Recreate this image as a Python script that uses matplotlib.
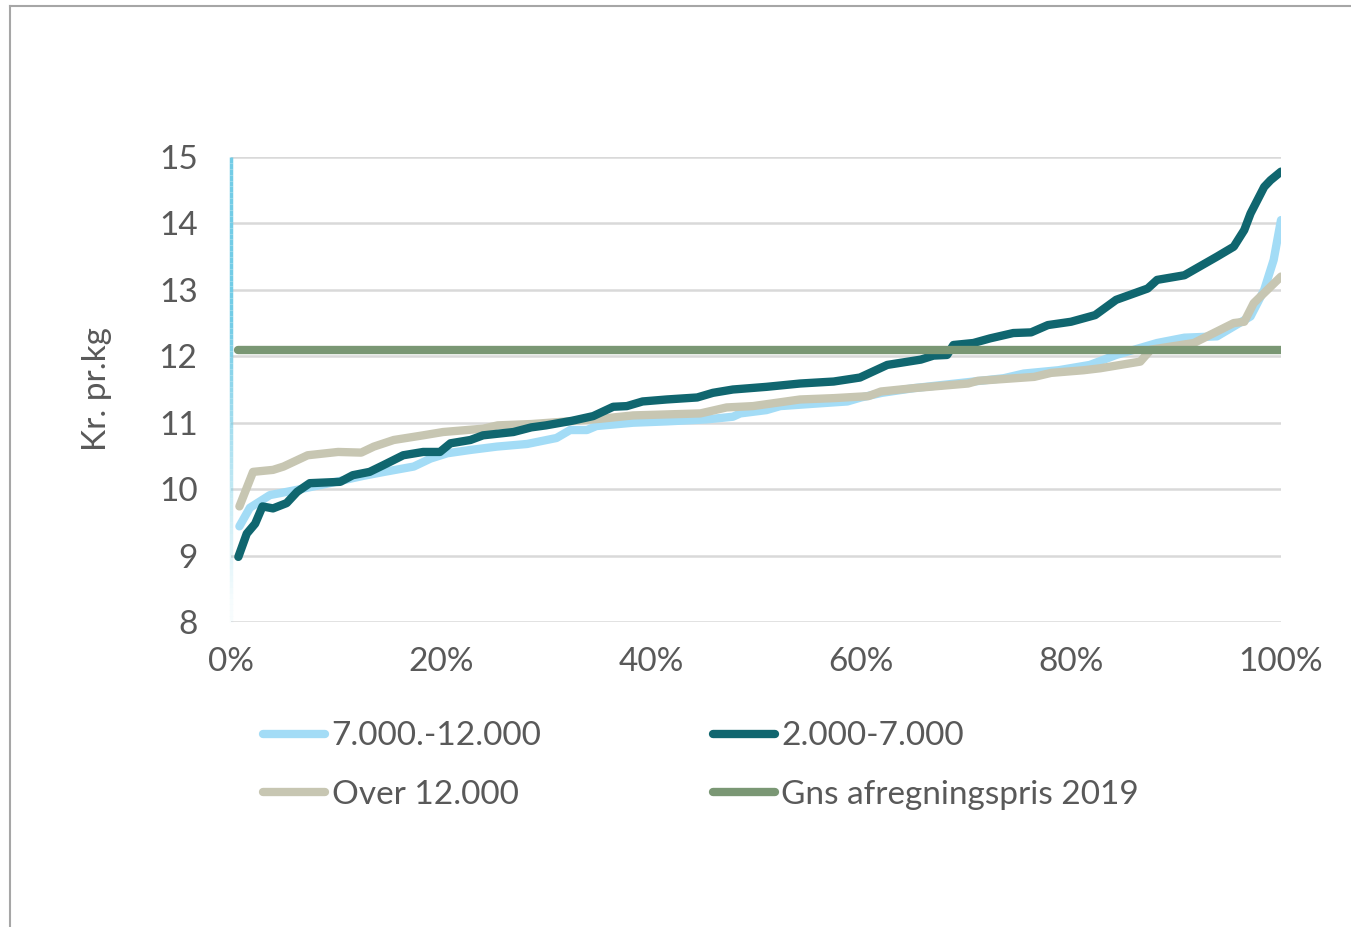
import numpy as np
import matplotlib
matplotlib.use("Agg")
import matplotlib.pyplot as plt
from matplotlib.collections import LineCollection
from matplotlib.lines import Line2D

# percentile position (%) and price (kr. pr. kg)
mid_x = [0.8, 1.8, 3.7, 6.3, 9.4, 12.6, 14.6, 17.4, 19.0, 20.6, 22.8, 25.3,
         28.2, 31.0, 32.3, 33.9, 34.8, 38.3, 41.5, 45.3, 47.8, 48.5, 51.0,
         52.3, 55.0, 58.7, 60.0, 62.0, 65.0, 69.0, 73.6, 75.5, 78.8, 81.8,
         84.3, 88.2, 90.8, 93.9, 97.1, 98.4, 99.3, 100.0]
mid_y = [9.44, 9.72, 9.91, 9.99, 10.09, 10.20, 10.26, 10.34, 10.46, 10.54,
         10.59, 10.64, 10.68, 10.77, 10.89, 10.89, 10.95, 11.00, 11.02, 11.05,
         11.09, 11.14, 11.19, 11.25, 11.28, 11.32, 11.38, 11.45, 11.52, 11.59,
         11.67, 11.74, 11.79, 11.87, 12.02, 12.20, 12.28, 12.30, 12.60, 13.00,
         13.45, 14.05]

small_x = [0.7, 1.5, 2.3, 3.0, 4.0, 5.3, 6.3, 7.5, 10.4, 11.6, 13.2, 14.5,
           16.4, 18.3, 19.9, 20.9, 22.8, 24.0, 26.9, 28.6, 30.0, 32.5, 34.5,
           36.4, 37.7, 39.2, 41.5, 44.4, 45.9, 47.8, 51.0, 54.2, 57.4, 59.9,
           62.5, 65.7, 66.9, 68.2, 68.8, 70.7, 72.3, 74.5, 76.2, 77.8, 80.0,
           82.3, 84.3, 87.3, 88.2, 90.8, 93.9, 95.5, 96.5, 97.1, 98.4, 99.0,
           100.0]
small_y = [8.98, 9.33, 9.48, 9.74, 9.71, 9.79, 9.96, 10.09, 10.11, 10.21,
           10.26, 10.36, 10.51, 10.56, 10.56, 10.69, 10.74, 10.81, 10.86,
           10.93, 10.96, 11.03, 11.10, 11.24, 11.25, 11.32, 11.35, 11.38,
           11.45, 11.50, 11.54, 11.59, 11.62, 11.68, 11.87, 11.95, 12.01,
           12.02, 12.17, 12.20, 12.27, 12.35, 12.36, 12.47, 12.52, 12.62,
           12.85, 13.02, 13.15, 13.22, 13.50, 13.65, 13.90, 14.15, 14.55,
           14.65, 14.78]

large_x = [0.8, 2.1, 4.0, 5.0, 7.3, 10.2, 12.4, 13.6, 15.5, 18.3, 20.2, 24.0,
           25.4, 28.6, 32.1, 35.2, 38.3, 44.7, 47.2, 49.7, 54.2, 57.4, 60.7,
           61.9, 65.0, 70.2, 71.1, 76.5, 78.1, 81.2, 82.8, 86.6, 87.6, 91.7,
           95.5, 96.5, 97.4, 98.7, 100.0]
large_y = [9.74, 10.26, 10.29, 10.34, 10.51, 10.56, 10.55, 10.64, 10.74,
           10.81, 10.86, 10.91, 10.96, 10.98, 11.02, 11.06, 11.11, 11.14,
           11.23, 11.25, 11.35, 11.37, 11.40, 11.47, 11.52, 11.59, 11.63,
           11.69, 11.75, 11.79, 11.82, 11.92, 12.10, 12.20, 12.50, 12.52,
           12.80, 13.00, 13.20]

avg_price = 12.1
avg_x = [0.7, 100.0]

y_ticks = [8, 9, 10, 11, 12, 13, 14, 15]
x_ticks = [0, 20, 40, 60, 80, 100]

plt.rcParams["font.family"] = ["Lato", "DejaVu Sans"]
text_color = "#595959"

fig = plt.figure(figsize=(13.51, 9.27), dpi=100)
ax = fig.add_axes([231 / 1351, 1 - 622 / 927, 1050 / 1351, 465 / 927])

lw = 6
ax.plot(mid_x, mid_y, color="#a3dcf6", lw=lw, solid_capstyle="round",
        solid_joinstyle="round", label="7.000.-12.000", zorder=3)
ax.plot(large_x, large_y, color="#c7c6b2", lw=lw, solid_capstyle="round",
        solid_joinstyle="round", label="Over 12.000", zorder=4)
ax.plot(small_x, small_y, color="#10666f", lw=lw, solid_capstyle="round",
        solid_joinstyle="round", label="2.000-7.000", zorder=5)
ax.plot(avg_x, [avg_price, avg_price], color="#7a9774", lw=lw,
        solid_capstyle="round", label="Gns afregningspris 2019", zorder=6)

ax.set_xlim(0, 100)
ax.set_ylim(8, 15)
ax.set_yticks(y_ticks)
ax.set_xticks(x_ticks)
ax.set_xticklabels([f"{t}%" for t in x_ticks])
ax.grid(axis="y", color="#d9d9d9", lw=1.8, zorder=0)
ax.tick_params(length=0, labelsize=24, colors=text_color)
ax.tick_params(axis="y", pad=24)
ax.tick_params(axis="x", pad=18)
for s in ax.spines.values():
    s.set_visible(False)

# left axis line fading towards the bottom
ys = np.linspace(8, 15, 80)
segs = [[(0, ys[i]), (0, ys[i + 1])] for i in range(len(ys) - 1)]
alphas = np.clip((ys[:-1] - 8) / 4.5, 0.05, 1.0)
cols = [(0.45, 0.80, 0.90, a) for a in alphas]
lc = LineCollection(segs, colors=cols, linewidths=2.5, clip_on=False, zorder=2)
ax.add_collection(lc)

ax.set_ylabel("Kr. pr.kg", fontsize=24, color=text_color, labelpad=34)

leg = ax.legend(ncol=2, loc="upper left", bbox_to_anchor=(0.018, -0.185),
                frameon=False, fontsize=24, handlelength=1.85,
                handletextpad=0.2, columnspacing=5.15, labelspacing=0.85,
                borderaxespad=0)
for t in leg.get_texts():
    t.set_color(text_color)

# outer frame (top and left edges)
fig.add_artist(Line2D([10 / 1351, 1], [1 - 6 / 927, 1 - 6 / 927],
                      color="#a6a6a6", lw=1.5, transform=fig.transFigure))
fig.add_artist(Line2D([10 / 1351, 10 / 1351], [0, 1 - 6 / 927],
                      color="#a6a6a6", lw=1.5, transform=fig.transFigure))

fig.savefig("out.png", dpi=100)
